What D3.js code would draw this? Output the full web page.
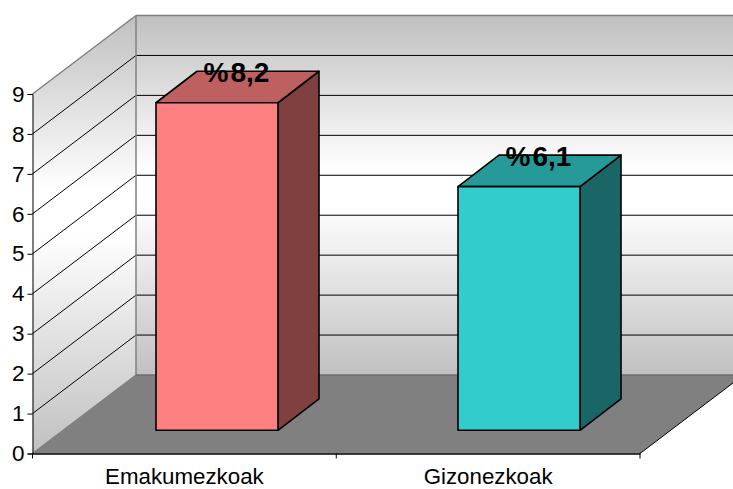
<!DOCTYPE html>
<html><head><meta charset="utf-8">
<script src="https://cdn.jsdelivr.net/npm/d3@7"></script>
<style>html,body{margin:0;padding:0;background:#fff}svg{display:block}text{font-family:"Liberation Sans",Arial,sans-serif;fill:#000}</style>
</head><body><svg id="c" width="733" height="489"></svg>
<script>
const categories=["Emakumezkoak","Gizonezkoak"];
const values=[8.2,6.1];
const labels=["%8,2","%6,1"];
const yTicks=[0,1,2,3,4,5,6,7,8,9];
const frontColors=["#ff8080","#33cccc"];
const topColors=["#bf6060","#269999"];
const sideColors=["#804040","#1a6666"];

const W=733,H=489;
const svg=d3.select("#c");
const x=d3.scaleBand().domain(categories).range([32.5,640]);
const xBar=d3.scaleBand().domain(categories).range([66,670]);
const y=d3.scaleLinear().domain([0,9]).range([453.5,94]);
const dx=103.5,dy=-78.5;      // wall depth
const by=-23.2;               // bar front offset from the axis plane
const bdx=41,bdy=-31.5;       // bar depth
const barW=122;
const L=x.range()[0],R=x.range()[1];

const defs=svg.append("defs");
function grad(id,y1,y2,mid){
  const g=defs.append("linearGradient").attr("id",id).attr("gradientUnits","userSpaceOnUse")
    .attr("x1",0).attr("x2",0).attr("y1",y1).attr("y2",y2);
  g.append("stop").attr("offset",0).attr("stop-color","#c0c0c0");
  g.append("stop").attr("offset",mid).attr("stop-color","#ffffff");
  g.append("stop").attr("offset",mid+0.1).attr("stop-color","#ffffff");
  g.append("stop").attr("offset",1).attr("stop-color","#c0c0c0");
}
grad("back",y(9)+dy,y(0)+dy,0.43);
grad("left",y(9)+dy,y(0),0.40);

const poly=pts=>pts.map(p=>p.join(",")).join(" ");
const clip=svg.append("g");

clip.append("polygon").attr("points",poly([[L+dx,y(9)+dy],[W+20,y(9)+dy],[W+20,y(0)+dy],[L+dx,y(0)+dy]]))
  .attr("fill","url(#back)");
clip.append("polygon").attr("points",poly([[L,y(9)],[L+dx,y(9)+dy],[L+dx,y(0)+dy],[L,y(0)]]))
  .attr("fill","url(#left)");
clip.append("polygon").attr("points",poly([[L,y(0)],[L+dx,y(0)+dy],[R+dx,y(0)+dy],[R,y(0)]]))
  .attr("fill","#808080");

yTicks.filter(t=>t>0).forEach(t=>{
  if(t<9) clip.append("line").attr("x1",L).attr("y1",y(t)).attr("x2",L+dx).attr("y2",y(t)+dy).attr("stroke","#000").attr("stroke-width",1);
  clip.append("line").attr("x1",L+dx).attr("y1",y(t)+dy).attr("x2",W).attr("y2",y(t)+dy).attr("stroke","#000").attr("stroke-width",1);
});
const edge=(a,b,c,d,col)=>clip.append("line").attr("x1",a).attr("y1",b).attr("x2",c).attr("y2",d).attr("stroke",col).attr("stroke-width",1.5);
edge(L,y(9),L+dx,y(9)+dy,"#808080");
edge(L+dx,y(9)+dy,W,y(9)+dy,"#808080");
edge(L+dx,y(9)+dy,L+dx,y(0)+dy,"#808080");
edge(L+dx,y(0)+dy,W,y(0)+dy,"#6e6e6e");
edge(L,y(0),L+dx,y(0)+dy,"#808080");
clip.append("line").attr("x1",R).attr("y1",y(0)).attr("x2",R+dx).attr("y2",y(0)+dy).attr("stroke","#000").attr("stroke-width",1);

categories.forEach((c,i)=>{
  const x0=xBar(c)+xBar.step()/2-barW/2, x1=x0+barW;
  const yb=y(0)+by, yt=yb-(y(0)-y(values[i]));
  const g=svg.append("g").attr("stroke","#000").attr("stroke-width",1.6).attr("stroke-linejoin","round");
  g.append("polygon").attr("points",poly([[x1,yb],[x1+bdx,yb+bdy],[x1+bdx,yt+bdy],[x1,yt]])).attr("fill",sideColors[i]);
  g.append("polygon").attr("points",poly([[x0,yt],[x0+bdx,yt+bdy],[x1+bdx,yt+bdy],[x1,yt]])).attr("fill",topColors[i]);
  g.append("polygon").attr("points",poly([[x0,yb],[x0,yt],[x1,yt],[x1,yb]])).attr("fill",frontColors[i]);
  const t=svg.append("text").attr("x",(x0+x1)/2+19.5).attr("y",yt-20.5).attr("text-anchor","middle")
    .attr("font-weight","bold").attr("font-size",28);
  t.append("tspan").text(labels[i].slice(0,1));
  t.append("tspan").attr("dx",2).text(labels[i].slice(1));
});

const ay=svg.append("g").attr("transform",`translate(${L},0)`)
  .call(d3.axisLeft(y).tickValues(yTicks).tickSize(5).tickPadding(3).tickFormat(d3.format("d")));
ay.selectAll("text").attr("font-size",22.5).style("font-family",'"Liberation Sans",Arial,sans-serif');
ay.selectAll("path,line").attr("stroke","#000");
const ax=svg.append("g").attr("transform",`translate(0,${y(0)})`)
  .call(d3.axisBottom(x).tickSize(0).tickPadding(15));
ax.selectAll("text").attr("font-size",22.3).style("font-family",'"Liberation Sans",Arial,sans-serif');
ax.selectAll("path").attr("stroke","#000").attr("stroke-width",1.5);
[0,1,2].forEach(i=>ax.append("line").attr("x1",L+i*x.step()).attr("x2",L+i*x.step()).attr("y1",0).attr("y2",5).attr("stroke","#000"));
</script></body></html>
